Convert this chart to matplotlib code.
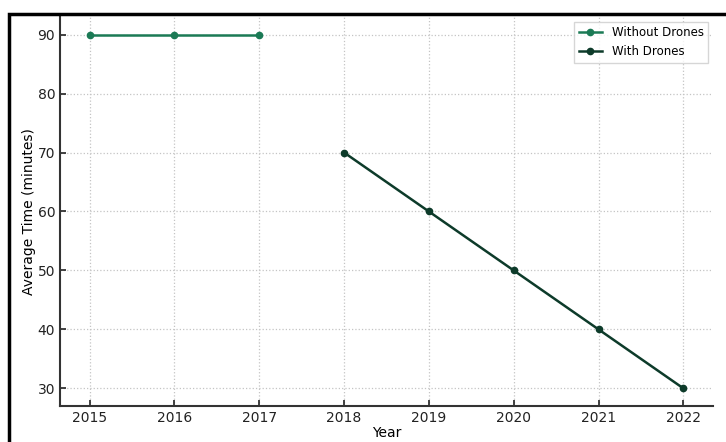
import matplotlib
matplotlib.use("Agg")
import matplotlib.pyplot as plt
from matplotlib.patches import Rectangle

years_without = [2015, 2016, 2017]
time_without = [90, 90, 90]
years_with = [2018, 2019, 2020, 2021, 2022]
time_with = [70, 60, 50, 40, 30]
xticks = [2015, 2016, 2017, 2018, 2019, 2020, 2021, 2022]

fig = plt.figure(figsize=(7.26, 4.42), dpi=100)
ax = fig.add_axes([60/726, 36/442, 653/726, 389/442])

ax.plot(years_without, time_without, color="#1b7a55", marker="o", markersize=4.5,
        linewidth=1.8, label="Without Drones")
ax.plot(years_with, time_with, color="#0d3b2a", marker="o", markersize=4.5,
        linewidth=1.8, label="With Drones")

ax.set_xlim(2014.65, 2022.35)
ax.set_ylim(27, 93)
ax.set_xticks(xticks)
ax.set_xticklabels([str(y) for y in xticks])
ax.set_yticks([30, 40, 50, 60, 70, 80, 90])
ax.tick_params(direction="in", length=4, width=1.2, labelsize=10, colors="#222222")
ax.grid(True, linestyle=":", color="#c4c4c4", linewidth=0.9)
for s in ["top", "right"]:
    ax.spines[s].set_visible(False)
for s in ["left", "bottom"]:
    ax.spines[s].set_linewidth(1.5)
    ax.spines[s].set_color("#333333")
ax.set_xlabel("Year", fontsize=10, labelpad=1)
ax.set_ylabel("Average Time (minutes)", fontsize=10, labelpad=1)
leg = ax.legend(loc="upper right", fontsize=8.5, frameon=True, fancybox=False,
                borderaxespad=0.4, handlelength=2)
leg.get_frame().set_edgecolor("#cccccc")

fig.patches.append(Rectangle((9/726, -0.1), 1.2, (442-14)/442 + 0.1,
                             transform=fig.transFigure, fill=False,
                             edgecolor="black", linewidth=2.5, zorder=10))

fig.savefig("out.png", dpi=100)
